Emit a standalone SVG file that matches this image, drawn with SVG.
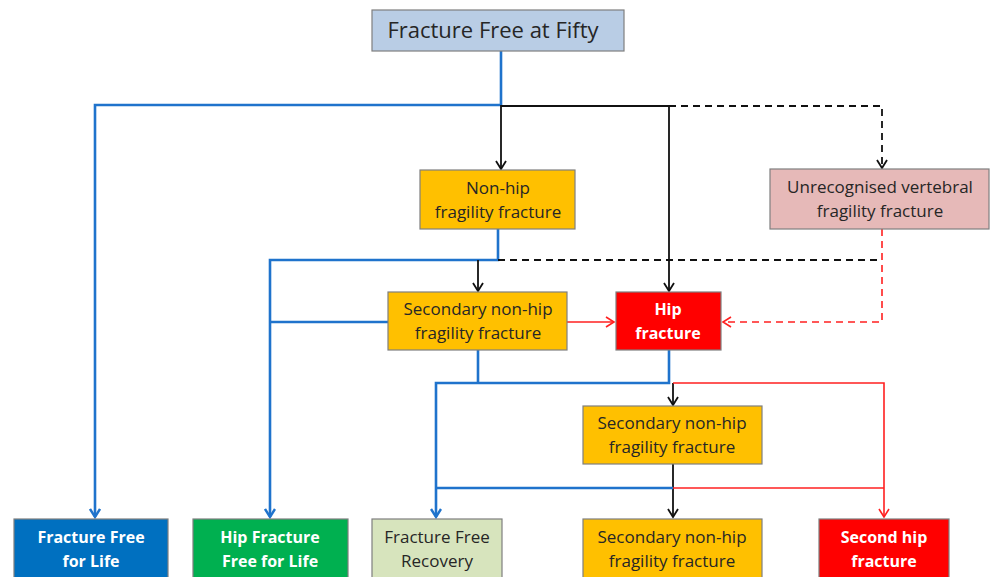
<svg xmlns="http://www.w3.org/2000/svg" width="990" height="577" viewBox="0 0 990 577">
<defs>
<style>
.box{stroke:#7f7f7f;stroke-width:1.2}
.t{font-family:"Open Sans","Liberation Sans",sans-serif;font-size:17px;fill:#262626;text-anchor:middle}
.w{fill:#ffffff;font-weight:bold;font-size:16px}
.blue{fill:none;stroke:#1f73cc;stroke-width:2.6}
.blk{fill:none;stroke:#111;stroke-width:1.8}
.red{fill:none;stroke:#ff2020;stroke-width:1.6}
.bd{fill:none;stroke:#111;stroke-width:1.8;stroke-dasharray:7 5}
.rd{fill:none;stroke:#ff2020;stroke-width:1.6;stroke-dasharray:7 5}
</style>
<marker id="ab" markerUnits="userSpaceOnUse" viewBox="0 0 12 12" refX="10" refY="6" markerWidth="12" markerHeight="12" orient="auto"><path d="M2,1 L10,6 L2,11" fill="none" stroke="#1f73cc" stroke-width="2.4"/></marker>
<marker id="ak" markerUnits="userSpaceOnUse" viewBox="0 0 12 12" refX="10" refY="6" markerWidth="12" markerHeight="12" orient="auto"><path d="M2,1 L10,6 L2,11" fill="none" stroke="#111" stroke-width="1.8"/></marker>
<marker id="ar" markerUnits="userSpaceOnUse" viewBox="0 0 12 12" refX="10" refY="6" markerWidth="12" markerHeight="12" orient="auto"><path d="M2,1 L10,6 L2,11" fill="none" stroke="#ff2020" stroke-width="1.6"/></marker>
</defs>
<rect width="990" height="577" fill="#ffffff"/>
<g id="connectors">
<path class="blue" d="M501,51 V105 H95 V517" marker-end="url(#ab)"/>
<path class="bd" d="M501,106 H882 V168" marker-end="url(#ak)"/>
<path class="blk" d="M501,105 V169" marker-end="url(#ak)"/>
<path class="blk" d="M501,106 H669 V291" marker-end="url(#ak)"/>
<path class="blue" d="M498,229 V260 H270 V517" marker-end="url(#ab)"/>
<path class="bd" d="M498,260 H882"/>
<path class="blk" d="M478,260 V291" marker-end="url(#ak)"/>
<path class="rd" d="M882,229 V322 H723" marker-end="url(#ar)"/>
<path class="blue" d="M270,322 H388"/>
<path class="red" d="M567,322 H614" marker-end="url(#ar)"/>
<path class="blue" d="M478,350 V383"/>
<path class="blue" d="M669,350 V383 H436 V517" marker-end="url(#ab)"/>
<path class="blk" d="M673,383 V405" marker-end="url(#ak)"/>
<path class="red" d="M673,383 H884 V517" marker-end="url(#ar)"/>
<path class="blk" d="M673,464 V517" marker-end="url(#ak)"/>
<path class="blue" d="M436,488 H673"/>
<path class="red" d="M673,488 H884"/>
</g>
<g id="n-top"><rect class="box" x="372" y="10" width="252" height="41" fill="#b9cde5"/><text class="t" x="493" y="38" style="font-size:22px">Fracture Free at Fifty</text></g>
<g id="n-nonhip"><rect class="box" x="420" y="170" width="155" height="59" fill="#ffc000"/><text class="t" x="498" y="194">Non-hip</text><text class="t" x="498" y="218">fragility fracture</text></g>
<g id="n-vert"><rect class="box" x="770" y="169" width="219" height="60" fill="#e6b9b8"/><text class="t" x="880" y="193">Unrecognised vertebral</text><text class="t" x="880" y="217">fragility fracture</text></g>
<g id="n-sec1"><rect class="box" x="388" y="292" width="179" height="58" fill="#ffc000"/><text class="t" x="478" y="315">Secondary non-hip</text><text class="t" x="478" y="339">fragility fracture</text></g>
<g id="n-hip"><rect class="box" x="616" y="292" width="105" height="58" fill="#ff0000"/><text class="t w" x="668" y="315">Hip</text><text class="t w" x="668" y="339">fracture</text></g>
<g id="n-sec2"><rect class="box" x="583" y="406" width="179" height="58" fill="#ffc000"/><text class="t" x="672" y="429">Secondary non-hip</text><text class="t" x="672" y="453">fragility fracture</text></g>
<g id="n-ffl"><rect class="box" x="14" y="519" width="154" height="62" fill="#0070c0"/><text class="t w" x="91" y="543">Fracture Free</text><text class="t w" x="91" y="567">for Life</text></g>
<g id="n-hffl"><rect class="box" x="193" y="519" width="155" height="62" fill="#00b050"/><text class="t w" x="270" y="543">Hip Fracture</text><text class="t w" x="270" y="567">Free for Life</text></g>
<g id="n-ffr"><rect class="box" x="372" y="519" width="130" height="62" fill="#d7e4bd"/><text class="t" x="437" y="543">Fracture Free</text><text class="t" x="437" y="567">Recovery</text></g>
<g id="n-sec3"><rect class="box" x="583" y="519" width="179" height="62" fill="#ffc000"/><text class="t" x="672" y="543">Secondary non-hip</text><text class="t" x="672" y="567">fragility fracture</text></g>
<g id="n-shf"><rect class="box" x="819" y="519" width="130" height="62" fill="#ff0000"/><text class="t w" x="884" y="543">Second hip</text><text class="t w" x="884" y="567">fracture</text></g>
</svg>
